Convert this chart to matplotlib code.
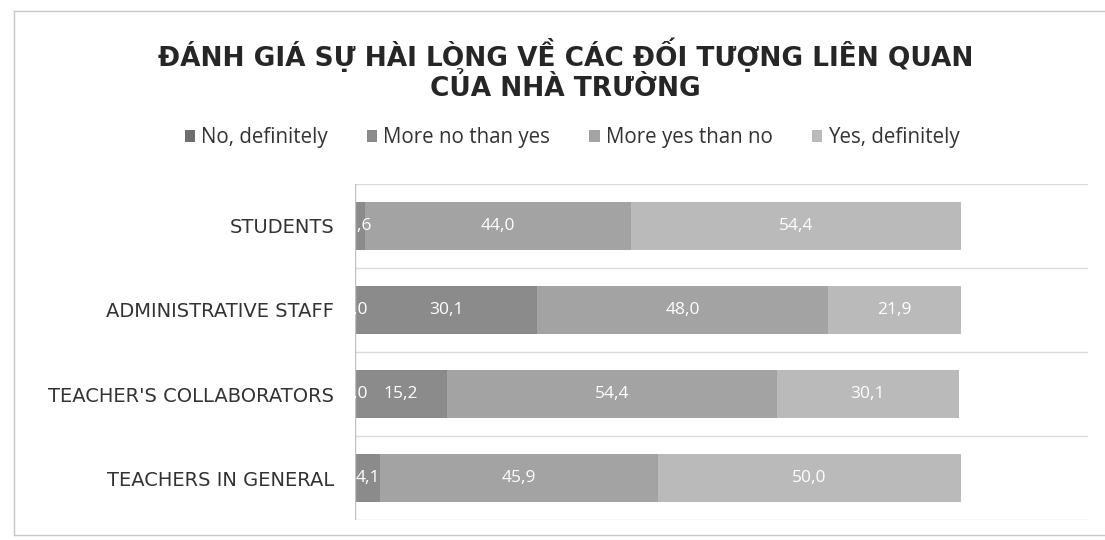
import matplotlib.pyplot as plt
import numpy as np

# Data (percent), rows from top to bottom
categories = ["STUDENTS", "ADMINISTRATIVE STAFF", "TEACHER'S COLLABORATORS", "TEACHERS IN GENERAL"]
series_names = ["No, definitely", "More no than yes", "More yes than no", "Yes, definitely"]
no_definitely = [0.0, 0.0, 0.0, 0.0]
more_no = [1.6, 30.1, 15.2, 4.1]
more_yes = [44.0, 48.0, 54.4, 45.9]
yes_definitely = [54.4, 21.9, 30.1, 50.0]

title = "ĐÁNH GIÁ SỰ HÀI LÒNG VỀ CÁC ĐỐI TƯỢNG LIÊN QUAN\nCỦA NHÀ TRƯỜNG"

colors = ["#6e6e6e", "#8b8b8b", "#a3a3a3", "#bababa"]

fig = plt.figure(figsize=(11.05, 5.4), dpi=100)
ax = fig.add_axes([0.3213, 0.037, 0.6633, 0.6223])

series = [no_definitely, more_no, more_yes, yes_definitely]
y = np.arange(len(categories))
left = np.zeros(len(categories))
for k, (name, vals, col) in enumerate(zip(series_names, series, colors)):
    vals = np.array(vals)
    ax.barh(y, vals, left=left, height=0.58, color=col, label=name)
    for i, (l, v) in enumerate(zip(left, vals)):
        # a zero label sitting under a tiny neighbour would only pile up on it
        if v == 0 and k + 1 < len(series) and series[k + 1][i] < 5:
            continue
        ax.text(l + v / 2, i, f"{v:.1f}".replace(".", ","), ha="center", va="center",
                color="white", fontsize=12.5, family="Open Sans")
    left = left + vals

ax.set_ylim(len(categories) - 0.5, -0.5)
ax.set_xlim(0, 121)
for b in np.arange(-0.5, len(categories), 1.0):
    ax.axhline(b, color="#d9d9d9", lw=1, zorder=0)
ax.axvline(0, color="#bfbfbf", lw=1)

for s in ax.spines.values():
    s.set_visible(False)
ax.set_xticks([])
ax.set_yticks(y)
ax.set_yticklabels(categories, fontsize=14, family="DejaVu Sans", color="#333333")
ax.tick_params(axis="y", length=0, pad=15)

fig.suptitle(title, x=0.512, y=0.93, fontsize=19, fontweight="bold",
             family="DejaVu Sans", color="#262626", linespacing=1.08)

handles, labels = ax.get_legend_handles_labels()
leg = fig.legend(handles, labels, loc="center", bbox_to_anchor=(0.518, 0.745), ncol=4,
                 frameon=False, prop={"family": "Open Sans", "size": 14.8},
                 handlelength=0.5, handleheight=0.5, columnspacing=1.9, handletextpad=0.3)
for t in leg.get_texts():
    t.set_color("#333333")

# chart frame (left, top, bottom edges)
frame_kw = dict(transform=fig.transFigure, color="#c8c8c8", lw=1)
fig.add_artist(plt.Line2D([0.013, 0.013], [0.01, 0.98], **frame_kw))
fig.add_artist(plt.Line2D([0.013, 1.0], [0.98, 0.98], **frame_kw))
fig.add_artist(plt.Line2D([0.013, 1.0], [0.01, 0.01], **frame_kw))

fig.savefig("out.png", dpi=100, facecolor="white")
